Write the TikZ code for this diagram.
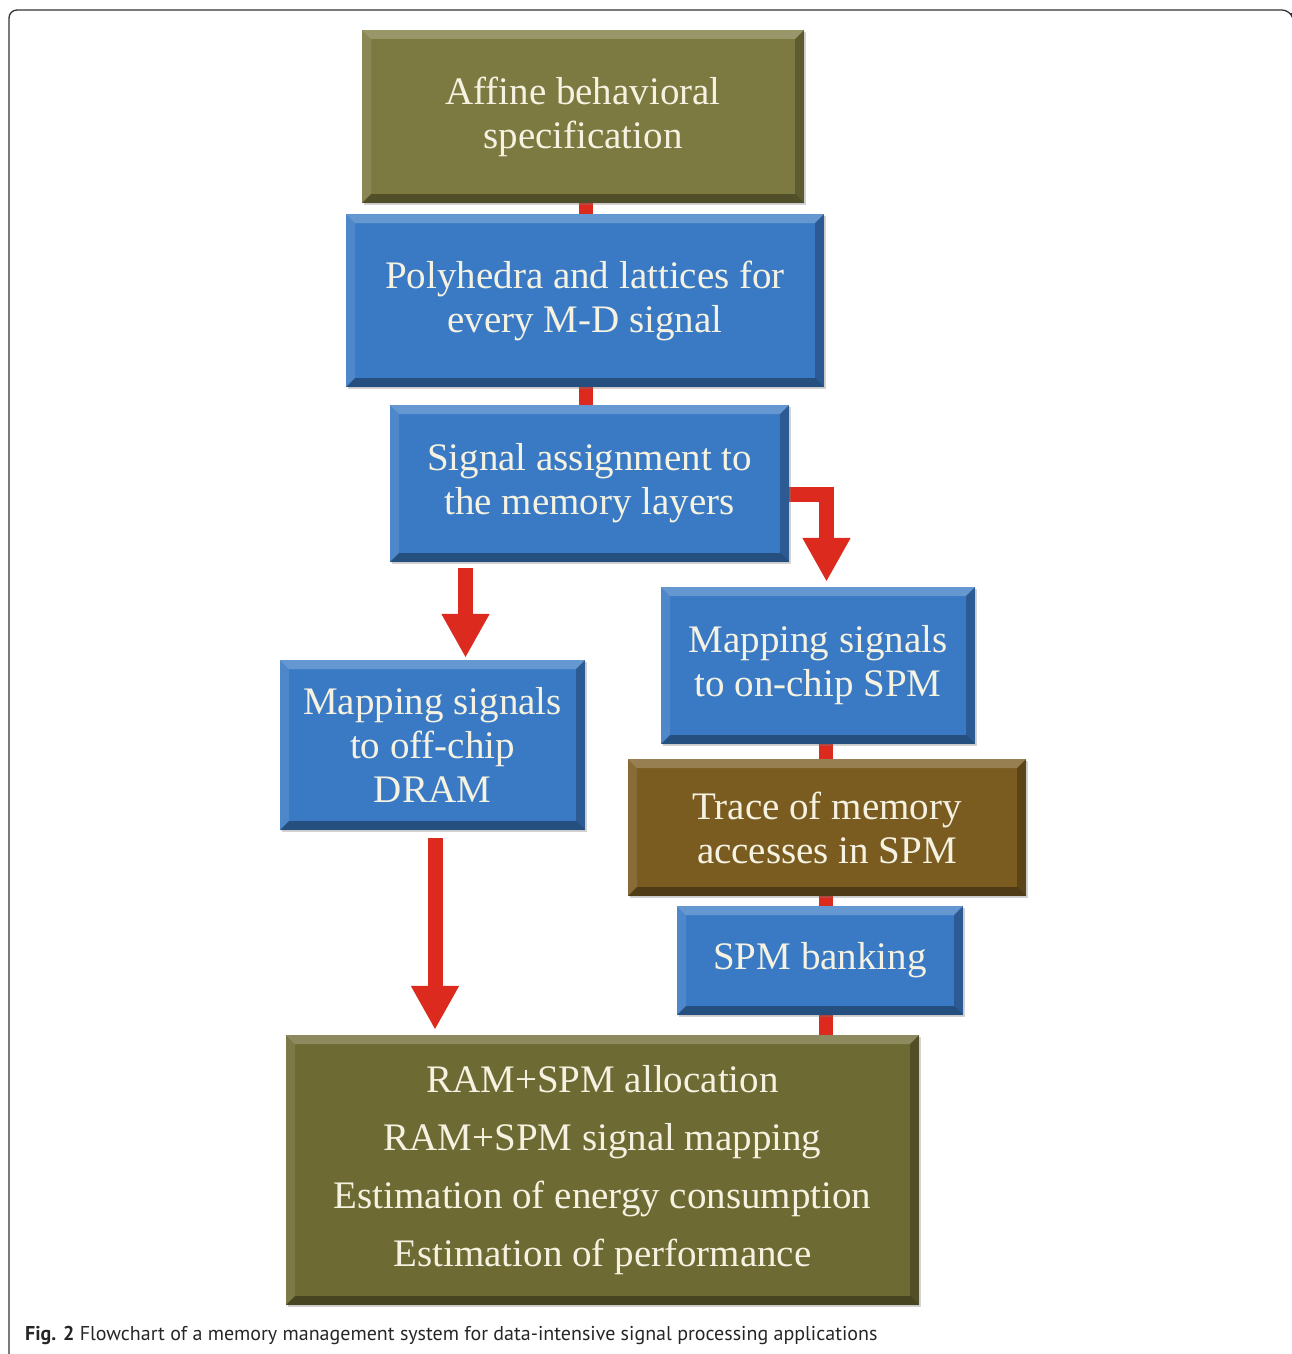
\documentclass[tikz,border=0pt]{standalone}
\usepackage{fontspec}
\setmainfont{Liberation Serif}
\newfontfamily\capfont{PT Sans}
\usetikzlibrary{arrows.meta,shadows,backgrounds,calc}
\definecolor{olivea}{HTML}{7D7A41}
\definecolor{oliveb}{HTML}{6E6A33}
\definecolor{brownc}{HTML}{7A5C21}
\definecolor{bluec}{HTML}{3A7AC4}
\definecolor{redc}{HTML}{DD2A1E}
\definecolor{creamc}{HTML}{F5F2E2}
\definecolor{framec}{HTML}{333333}
\tikzset{
  bevel/.style={path picture={
    \coordinate (pNW) at (path picture bounding box.north west);
    \coordinate (pNE) at (path picture bounding box.north east);
    \coordinate (pSW) at (path picture bounding box.south west);
    \coordinate (pSE) at (path picture bounding box.south east);
    \fill[white,opacity=.22] (pNW) -- (pNE) -- ([shift={(-9pt,-9pt)}]pNE) -- ([shift={(9pt,-9pt)}]pNW) -- cycle;
    \fill[white,opacity=.10] (pNW) -- ([shift={(9pt,-9pt)}]pNW) -- ([shift={(9pt,9pt)}]pSW) -- (pSW) -- cycle;
    \fill[black,opacity=.35] (pSW) -- (pSE) -- ([shift={(-9pt,9pt)}]pSE) -- ([shift={(9pt,9pt)}]pSW) -- cycle;
    \fill[black,opacity=.25] (pNE) -- (pSE) -- ([shift={(-9pt,9pt)}]pSE) -- ([shift={(-9pt,-9pt)}]pNE) -- cycle;
  }},
  blk/.style={rectangle, inner sep=0pt, align=center, text=creamc, bevel,
    font=\fontsize{39}{44}\selectfont,
    drop shadow={shadow xshift=2pt, shadow yshift=-2pt, opacity=.35, fill=black!50}},
  link/.style={draw=redc, line width=14pt},
  arr/.style={draw=redc, line width=15pt, line join=miter,
    -{Triangle[width=45pt,length=44pt]}},
  frame/.style={draw=framec, line width=1.3pt, rounded corners=8pt}
}
\begin{document}
\begin{tikzpicture}[x=1pt,y=-1pt]
\useasboundingbox (0,0) rectangle (1292,1354);
\draw[frame] (9,1354) -- (9,10) -- (1290,10) -- (1291,13);

\node[blk, fill=olivea, minimum width=442pt, minimum height=173pt] (spec) at (583,116.5) {Affine behavioral\\specification};
\node[blk, fill=bluec, minimum width=478pt, minimum height=173pt] (poly) at (585,300.5) {Polyhedra and lattices for\\every M-D signal};
\node[blk, fill=bluec, minimum width=399pt, minimum height=157pt] (sig) at (589.5,483.5) {Signal assignment to\\the memory layers};
\node[blk, fill=bluec, minimum width=305pt, minimum height=170pt] (offchip) at (432.5,745) {Mapping signals\\to off-chip\\DRAM};
\node[blk, fill=bluec, minimum width=314pt, minimum height=157pt] (onchip) at (818,665.5) {Mapping signals\\to on-chip SPM};
\node[blk, fill=brownc, minimum width=398pt, minimum height=137pt] (trace) at (827,827.5) {Trace of memory\\accesses in SPM};
\node[blk, fill=bluec, minimum width=286pt, minimum height=109pt] (bank) at (820,960.5) {SPM banking};
\node[blk, fill=oliveb, minimum width=633pt, minimum height=270pt, font=\fontsize{39}{58}\selectfont] (alloc) at (602.5,1170) {RAM+SPM allocation\\RAM+SPM signal mapping\\Estimation of energy consumption\\Estimation of performance};

\node[anchor=west, inner sep=0pt, text=black!85, font=\capfont\fontsize{20}{23}\selectfont] (cap) at (25,1335) {\textbf{Fig. 2} Flowchart of a memory management system for data-intensive signal processing applications};

\begin{scope}[on background layer]
\draw[link] ($(poly.north |- spec.south)+(1pt,2pt)$) -- ($(poly.north)+(1pt,-2pt)$);
\draw[link] ($(sig.north |- poly.south)+(-3.5pt,2pt)$) -- ($(sig.north)+(-3.5pt,-2pt)$);
\draw[link] ($(trace.north |- onchip.south)+(-1pt,2pt)$) -- ($(trace.north)+(-1pt,-2pt)$);
\draw[link] ($(trace.south)+(-1pt,2pt)$) -- ($(trace.south |- bank.north)+(-1pt,-2pt)$);
\draw[link] ($(trace.south |- bank.south)+(-1pt,2pt)$) -- ($(trace.south |- alloc.north)+(-1pt,-2pt)$);
\draw[arr] ($(sig.east)+(-3pt,-10.5pt)$) -| ($(onchip.north)+(8.5pt,5pt)$);
\draw[arr] ($(offchip.north |- sig.south)+(33pt,-6pt)$) -- ($(offchip.north)+(33pt,2pt)$);
\draw[arr] ($(offchip.south)+(2.5pt,-8pt)$) -- ($(offchip.south |- alloc.north)+(2.5pt,5pt)$);
\end{scope}
\end{tikzpicture}
\end{document}
